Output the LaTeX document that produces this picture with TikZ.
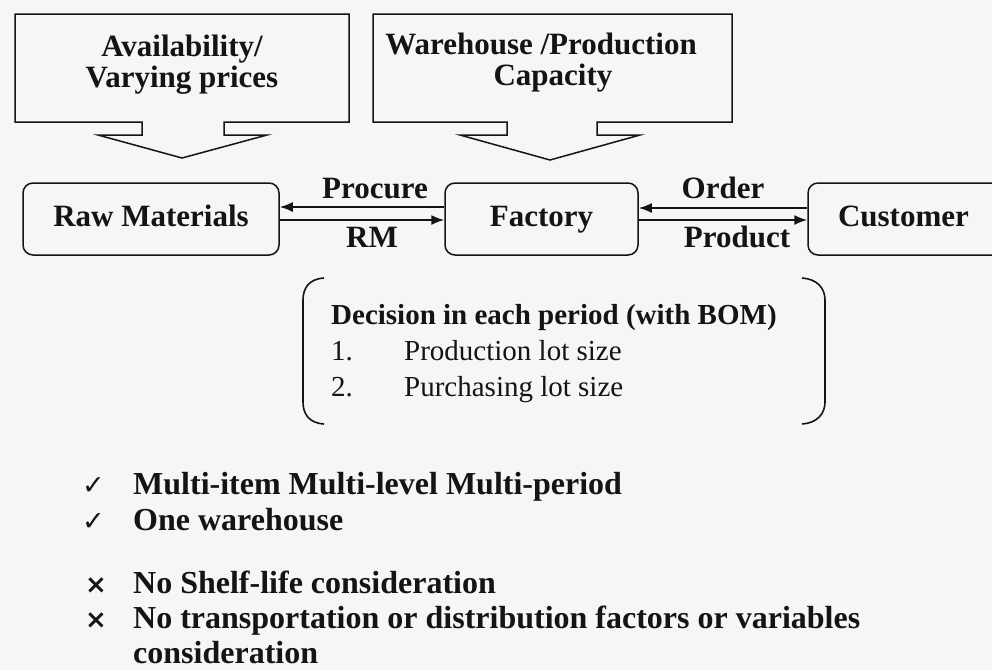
\documentclass[tikz,border=0pt]{standalone}
\usepackage{fontspec}
\setmainfont{Liberation Serif}
\newfontfamily\symfont{DejaVu Sans}
\usetikzlibrary{arrows.meta}
\definecolor{bg}{RGB}{246,246,246}
\definecolor{ink}{RGB}{20,20,20}
\begin{document}
\begin{tikzpicture}[x=1pt,y=-1pt,
  ln/.style={line width=1.5pt, draw=ink},
  callout/.style={ln, line join=miter},
  procbox/.style={ln, rounded corners=10pt, inner sep=0pt, minimum height=72pt,
    text height=22pt, text depth=7pt,
    font=\fontsize{31}{34}\selectfont\bfseries, text=ink},
  big/.style={font=\fontsize{31}{34}\selectfont\bfseries, text=ink, inner sep=0pt, anchor=base},
  head/.style={font=\fontsize{29}{32}\selectfont\bfseries, text=ink, inner sep=0pt, anchor=base west},
  reg/.style={font=\fontsize{29}{32}\selectfont, text=ink, inner sep=0pt, anchor=base west},
  flow/.style={ln, line width=1.7pt, -{Latex[length=13pt,width=10pt]}},
  bul/.style={font=\fontsize{32}{34}\selectfont\bfseries, text=ink, inner sep=0pt, anchor=base west},
  chk/.style={font=\fontsize{27}{29}\selectfont\symfont, text=ink, inner sep=0pt, anchor=base west},
  crs/.style={font=\fontsize{26}{28}\selectfont\symfont\bfseries, text=ink, inner sep=0pt, anchor=base west},
  brk/.style={ln, line width=1.6pt}
]
\fill[bg] (0,0) rectangle (992,670);
\useasboundingbox (0,0) rectangle (992,670);

% callouts
\draw[callout] (15,14) -- (349,14) -- (349,122) -- (224,122) -- (224,135) -- (267,135)
  -- (182,158) -- (98,135) -- (142,135) -- (142,122) -- (15,122) -- cycle;
\node[big] (c1a) at (182,56) {Availability/};
\node[big] (c1b) at (182,87) {Varying prices};

\draw[callout] (373,14) -- (732,14) -- (732,122) -- (597,122) -- (597,135) -- (640,135)
  -- (550,160) -- (460,135) -- (507,135) -- (507,122) -- (373,122) -- cycle;
\node[big] (c2a) at (541,54) {Warehouse /Production};
\node[big] (c2b) at (553,85) {Capacity};

% process boxes
\node[procbox, minimum width=256pt] (rm) at (151,219) {Raw Materials};
\node[procbox, minimum width=193pt] (fa) at (541.5,219) {Factory};
\node[procbox, minimum width=200pt, text width=200pt, align=left] (cu) at (908,219) {\hspace*{30pt}Customer};

% flows
\draw[flow] ([yshift=12pt]fa.west) -- ([yshift=12pt]rm.east);
\draw[flow] ([yshift=-1pt]rm.east) -- ([yshift=-1pt]fa.west);
\draw[flow] ([yshift=11pt]cu.west) -- ([yshift=11pt]fa.east);
\draw[flow] ([yshift=-1pt]fa.east) -- ([yshift=-1pt]cu.west);
\node[big] (lp) at (375,198) {Procure};
\node[big] (lr) at (372,247) {RM};
\node[big] (lo) at (723,198) {Order};
\node[big] (lpr) at (737,247) {Product};

% bracket
\draw[brk] (324,278) .. controls (309,279) and (303,288) .. (303,300) -- (303,402)
  .. controls (303,414) and (309,423) .. (324,424);
\draw[brk] (802,278) .. controls (817,279) and (825,288) .. (825,300) -- (825,402)
  .. controls (825,414) and (817,423) .. (802,424);
\node[head] (dh) at (331,324) {Decision in each period (with BOM)};
\node[reg] (n1) at (331,360) {1.};
\node[reg] (t1) at (404,360) {Production lot size};
\node[reg] (n2) at (331,396) {2.};
\node[reg] (t2) at (404,396) {Purchasing lot size};

% bullets
\node[chk] (k1) at (82,494) {✓};
\node[bul] (b1) at (133,494) {Multi-item Multi-level Multi-period};
\node[chk] (k2) at (82,530) {✓};
\node[bul] (b2) at (133,530) {One warehouse};
\node[crs] (x1) at (85,593) {×};
\node[bul] (b3) at (133,593) {No Shelf-life consideration};
\node[crs] (x2) at (85,628) {×};
\node[bul] (b4) at (133,628) {No transportation or distribution factors or variables};
\node[bul] (b5) at (133,663) {consideration};
\end{tikzpicture}
\end{document}
